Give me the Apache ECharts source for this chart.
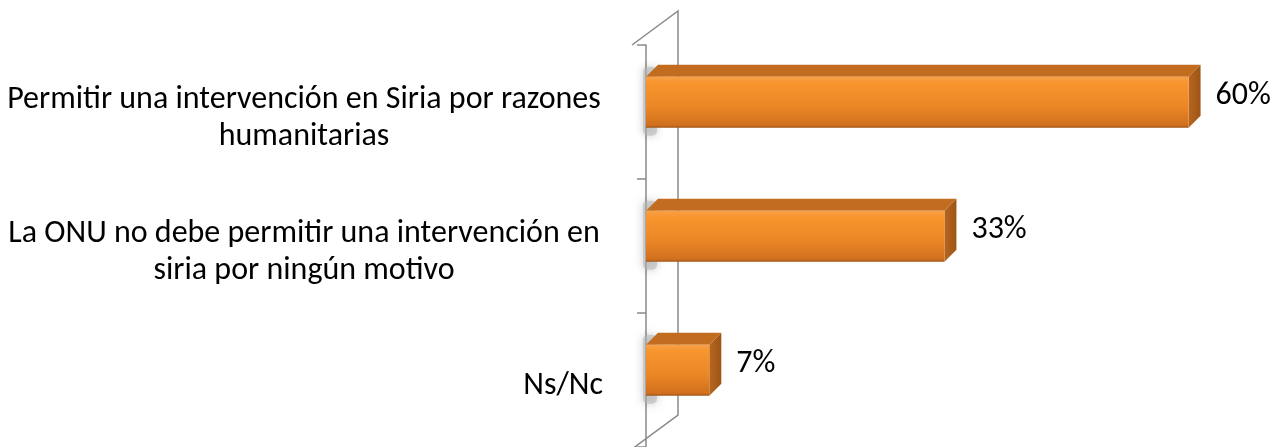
<!DOCTYPE html>
<html>
<head>
<meta charset="utf-8">
<script src="https://cdn.jsdelivr.net/npm/echarts@6/dist/echarts.min.js"></script>
<style>
  html, body { margin: 0; padding: 0; background: #fff; }
  #myChart { width: 1285px; height: 447px; }
</style>
</head>
<body>
<div id="myChart"></div>
<script>
// categorias y valores (%)
var categories = [
  "Permitir una intervención en Siria por razones\nhumanitarias",
  "La ONU no debe permitir una intervención en\nsiria por ningún motivo",
  "Ns/Nc"
];
var values = [60, 33, 7];
var valueLabels = ["60%", "33%", "7%"];

var fontFam = "Carlito, Lato, sans-serif";

function renderBar(params, api) {
  var v = api.value(0);
  var idx = api.value(1);
  var p0 = api.coord([0, idx]);
  var p1 = api.coord([v, idx]);
  var band = api.size([0, 1])[1];
  var h = band * 0.38;
  var cy = p0[1] - band * 0.08 + 1;
  var x0 = p0[0], x1 = p1[0];
  var y0 = cy - h / 2, y1 = cy + h / 2;
  var d = 12;
  return {
    type: "group",
    children: [
      // sombra sobre la pared
      {
        type: "rect",
        shape: { x: x0 - 3, y: y0 - 10, width: 14, height: h + 18, r: 5 },
        style: { fill: "rgba(185,185,185,0.6)", shadowBlur: 9, shadowColor: "rgba(0,0,0,0.35)" }
      },
      {
        type: "polygon",
        shape: { points: [[x0, y0], [x0 + d, y0 - d], [x1 + d, y0 - d], [x1, y0]] },
        style: { fill: "#C26C20" }
      },
      {
        type: "polygon",
        shape: { points: [[x1, y0], [x1 + d, y0 - d], [x1 + d, y1 - d], [x1, y1]] },
        style: {
          fill: new echarts.graphic.LinearGradient(0, 0, 1, 0, [
            { offset: 0, color: "#B8661F" },
            { offset: 1, color: "#9C5516" }
          ])
        }
      },
      {
        type: "rect",
        shape: { x: x0, y: y0, width: x1 - x0, height: h },
        style: {
          fill: new echarts.graphic.LinearGradient(0, 0, 0, 1, [
            { offset: 0, color: "#F6A04A" },
            { offset: 0.12, color: "#F8952D" },
            { offset: 0.6, color: "#EB8626" },
            { offset: 0.95, color: "#D0701E" },
            { offset: 1, color: "#9E5514" }
          ])
        }
      },
      {
        type: "text",
        x: x1 + d + 15,
        y: (y0 - d + y1) / 2,
        style: {
          text: valueLabels[idx],
          fill: "#000",
          font: "32px " + fontFam,
          verticalAlign: "middle",
          align: "left"
        }
      }
    ]
  };
}

var chart = echarts.init(document.getElementById("myChart"));
var option = {
  animation: false,
  grid: { left: 646, top: 45, right: 6, bottom: -5 },
  xAxis: {
    type: "value",
    min: 0,
    max: 70,
    show: false
  },
  yAxis: {
    type: "category",
    inverse: true,
    data: categories,
    offset: 14,
    axisLine: { show: true, lineStyle: { color: "#8a8a8a", width: 1.5 } },
    axisTick: { show: true, length: 9, lineStyle: { color: "#8a8a8a", width: 1.5 } },
    axisLabel: {
      margin: 29,
      padding: [12, 0, 0, 0],
      fontSize: 32,
      fontFamily: fontFam,
      color: "#000",
      formatter: function (val) {
        if (val.indexOf("\n") < 0) return val;
        return val.split("\n").map(function (s) { return "{a|" + s + "}"; }).join("\n");
      },
      rich: {
        a: { width: 598, align: "center", fontSize: 32, lineHeight: 37, color: "#000", fontFamily: fontFam }
      }
    }
  },
  graphic: [
    {
      type: "polyline",
      shape: { points: [[632, 45], [678, 11], [678, 415], [632, 449]] },
      style: { stroke: "#8a8a8a", lineWidth: 1.5, fill: null },
      z: 0
    }
  ],
  series: [
    {
      type: "custom",
      renderItem: renderBar,
      data: values.map(function (v, i) { return [v, i]; }),
      encode: { x: 0, y: 1 },
      z: 5
    }
  ]
};
chart.setOption(option);
</script>
</body>
</html>
